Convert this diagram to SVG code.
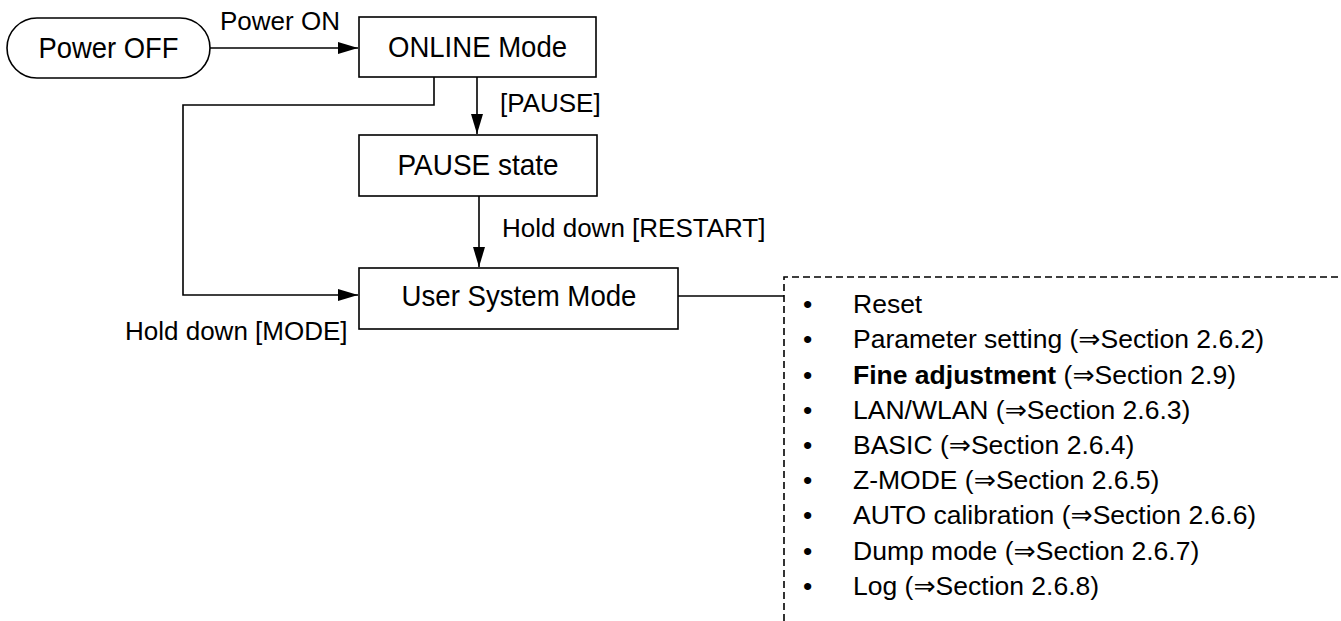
<svg xmlns="http://www.w3.org/2000/svg" width="1341" height="621" viewBox="0 0 1341 621">
<style>
  .box{fill:#fff;stroke:#000;stroke-width:1.6}
  .ln{fill:none;stroke:#000;stroke-width:1.6}
  .dash{fill:none;stroke:#000;stroke-width:1.6;stroke-dasharray:7 4}
  .nt{font-family:"Liberation Sans",Arial,sans-serif;font-size:30px;fill:#000;text-anchor:middle}
  .lb{font-family:"Liberation Sans",Arial,sans-serif;font-size:26px;fill:#000}
  .li{font-family:"Liberation Sans",Arial,"DejaVu Sans",sans-serif;font-size:26.5px;fill:#000}
</style>
<defs>
  <marker id="ah" markerWidth="20" markerHeight="12" refX="20" refY="6" orient="auto" markerUnits="userSpaceOnUse">
    <path d="M0,0 L20,6 L0,12 Z" fill="#000"/>
  </marker>
</defs>
<rect width="1341" height="621" fill="#fff"/>
<g id="connectors">
  <line class="ln" x1="210" y1="48" x2="358" y2="48" marker-end="url(#ah)"/>
  <line class="ln" x1="477" y1="77" x2="477" y2="134" marker-end="url(#ah)"/>
  <line class="ln" x1="479" y1="196" x2="479" y2="267" marker-end="url(#ah)"/>
  <polyline class="ln" points="434,77 434,105 183,105 183,295 358,295" marker-end="url(#ah)"/>
  <line class="ln" x1="678" y1="296" x2="784" y2="296"/>
  <text class="lb" x="220" y="30">Power ON</text>
  <text class="lb" x="500" y="112">[PAUSE]</text>
  <text class="lb" x="502" y="237">Hold down [RESTART]</text>
  <text class="lb" x="125" y="340">Hold down [MODE]</text>
</g>
<g id="power-off">
  <rect class="box" x="7" y="18" width="203" height="60" rx="30" ry="30"/>
  <text class="nt" x="108.5" y="58" textLength="140" lengthAdjust="spacingAndGlyphs">Power OFF</text>
</g>
<g id="online-mode">
  <rect class="box" x="359" y="17" width="237" height="60"/>
  <text class="nt" x="477.5" y="57" textLength="179" lengthAdjust="spacingAndGlyphs">ONLINE Mode</text>
</g>
<g id="pause-state">
  <rect class="box" x="359" y="135" width="238" height="61"/>
  <text class="nt" x="478" y="175" textLength="161" lengthAdjust="spacingAndGlyphs">PAUSE state</text>
</g>
<g id="user-system-mode">
  <rect class="box" x="359" y="268" width="319" height="61"/>
  <text class="nt" x="519" y="306" textLength="235" lengthAdjust="spacingAndGlyphs">User System Mode</text>
</g>
<g id="menu-list">
  <polyline class="dash" points="784,621 784,277 1341,277"/>
  <g class="li">
    <text x="803" y="313">•</text><text x="853" y="313">Reset</text>
    <text x="803" y="348">•</text><text x="853" y="348">Parameter setting (⇒Section 2.6.2)</text>
    <text x="803" y="384">•</text><text x="853" y="384"><tspan font-weight="bold">Fine adjustment</tspan> (⇒Section 2.9)</text>
    <text x="803" y="419">•</text><text x="853" y="419">LAN/WLAN (⇒Section 2.6.3)</text>
    <text x="803" y="454">•</text><text x="853" y="454">BASIC (⇒Section 2.6.4)</text>
    <text x="803" y="489">•</text><text x="853" y="489">Z-MODE (⇒Section 2.6.5)</text>
    <text x="803" y="524">•</text><text x="853" y="524">AUTO calibration (⇒Section 2.6.6)</text>
    <text x="803" y="560">•</text><text x="853" y="560">Dump mode (⇒Section 2.6.7)</text>
    <text x="803" y="595">•</text><text x="853" y="595">Log (⇒Section 2.6.8)</text>
  </g>
</g>
</svg>
